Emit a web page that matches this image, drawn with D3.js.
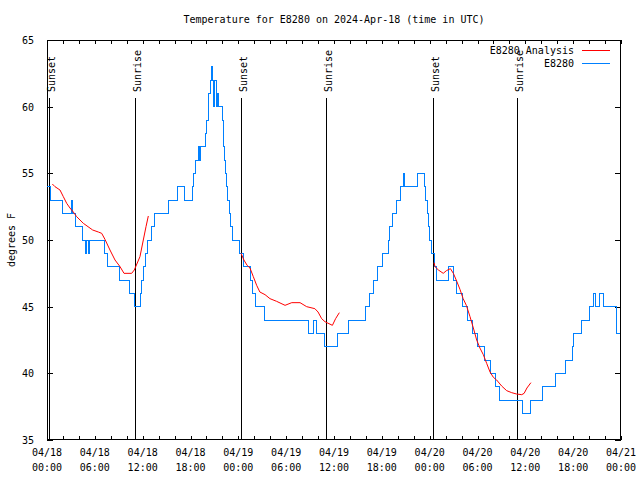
<!DOCTYPE html>
<html><head><meta charset="utf-8">
<script src="https://cdn.jsdelivr.net/npm/d3@7"></script>
<style>
body{margin:0;background:#fff}
text{font-family:"DejaVu Sans Mono",monospace;font-size:10px;fill:#000}
</style>
</head><body><svg id="c" width="640" height="480"></svg>
<script>
const chartTitle = "Temperature for E8280 on 2024-Apr-18 (time in UTC)";
const yLabel = "degrees F";
const seriesNames = ["E8280 Analysis", "E8280"];
const seriesColors = ["#ff0000", "#0080ff"];
const yTickValues = [35, 40, 45, 50, 55, 60, 65];
const startDate = Date.UTC(2024, 3, 18);
const hoursSpan = 72;
// sunrise / sunset markers (hours after 04/18 00:00 UTC)
const sunEvents = [["Sunset", 0.3], ["Sunrise", 11.02], ["Sunset", 24.37], ["Sunrise", 35.0], ["Sunset", 48.45], ["Sunrise", 58.98]];
// observed temperature (hour, degF), value holds until the next entry
const e8280 = [
[0.0,54],[0.5,53],[2.0,52],[3.05,53],[3.25,52],[3.6,51],[4.5,50],[4.8,49],[5.0,50],[5.15,49],[5.35,50],
[7.2,49],[7.6,48],[9.1,47],[10.3,46],[11.0,45],[11.75,46],[11.9,47],[12.1,48],[12.35,49],[12.6,50],
[13.05,51],[13.5,52],[15.3,53],[16.4,54],[17.3,53],[18.3,54],[18.4,55],[18.6,56],[18.95,57],[19.1,56],
[19.3,57],[19.9,58],[20.05,59],[20.2,60],[20.3,61],[20.45,62],[20.6,63],[20.75,62],[20.9,60],[21.05,62],
[21.25,60],[21.4,61],[21.55,60],[22.0,59],[22.1,58],[22.2,57],[22.3,56],[22.4,55],[22.55,54],[22.7,53],
[22.85,52],[23.05,51],[23.3,50],[24.1,49],[24.6,48],[25.5,47],[25.8,46],[26.1,45],[27.25,44],[32.8,43],
[33.4,44],[33.85,43],[34.85,42],[36.5,43],[37.8,44],[40.0,45],[40.4,46],[40.9,47],[41.5,48],[42.1,49],
[42.8,50],[43.0,51],[43.4,52],[43.85,53],[44.3,54],[44.7,55],[44.9,54],[46.5,55],[47.3,54],[47.5,53],
[47.7,52],[47.9,51],[48.0,50],[48.2,49],[48.6,48],[48.8,47],[50.3,48],[51.0,47],[51.4,46],[52.1,45],
[52.75,44],[53.4,43],[53.95,42],[54.85,41],[55.6,40],[56.3,39],[56.7,38],[59.6,37],[60.6,38],[62.1,39],
[63.8,40],[65.1,41],[65.9,42],[66.1,43],[67.0,44],[68.0,45],[68.55,46],[68.8,45],[69.3,46],[69.85,45],
[71.4,43],[71.9,43]
];
// analysis (hour, degF), three night segments
const analysisNight1 = [[0.67,54.2],[1.0,54.0],[1.63,53.75],[2.05,53.25],[2.47,52.75],[2.88,52.4],[3.3,52.1],[3.72,51.75],[4.56,51.25],[5.73,50.75],[6.44,50.6],[6.86,50.5],[7.27,50.05],[7.9,49.25],[8.53,48.5],[9.16,48.0],[9.66,47.5],[10.62,47.5],[10.95,47.75],[11.66,48.75],[12.08,50],[12.42,51],[12.71,51.8]];
const analysisNight2 = [[24.34,49.0],[24.7,48.5],[25.1,48.1],[25.46,47.9],[25.88,47.25],[26.3,46.6],[26.7,46.1],[27.35,45.9],[27.97,45.6],[28.8,45.4],[29.86,45.1],[30.7,45.3],[31.74,45.3],[32.57,45.0],[33.6,44.85],[34.0,44.6],[34.45,44.1],[34.87,43.87],[35.8,43.6],[36.2,44.1],[36.67,44.55]];
const analysisNight3 = [[48.55,48.3],[48.67,48.0],[49.1,47.75],[49.7,47.5],[50.1,47.7],[50.6,47.85],[50.97,47.5],[51.4,46.9],[51.8,46.3],[52.2,45.6],[52.6,45.1],[53.06,44.25],[53.48,43.4],[53.9,42.5],[54.3,41.9],[54.73,41.4],[55.15,40.75],[55.57,40.1],[55.99,39.7],[56.4,39.5],[57.03,39.05],[57.66,38.7],[58.29,38.55],[58.9,38.45],[59.55,38.4],[59.85,38.5],[60.2,38.9],[60.7,39.3]];

const L = 47, R = 621, T = 40, B = 440;
const svg = d3.select("#c");
const toDate = h => new Date(startDate + h * 3600e3);
const x = d3.scaleUtc().domain([toDate(0), toDate(hoursSpan)]).range([L, R]);
const y = d3.scaleLinear().domain([35, 65]).range([B, T]);

// title
svg.append("text").attr("x", (L + R) / 2).attr("y", 23).attr("text-anchor", "middle").text(chartTitle);
// y label
svg.append("text").attr("transform", "translate(15,240) rotate(-90)").attr("text-anchor", "middle").text(yLabel);

const majors = d3.utcHour.every(6).range(toDate(0), toDate(hoursSpan + 0.01));
const minors = d3.utcHour.every(2).range(toDate(0), toDate(hoursSpan + 0.01));

// bottom and top ticks (inward)
const gb = svg.append("g").attr("transform", `translate(0,${B})`)
  .call(d3.axisBottom(x).tickValues(minors).tickSizeInner(-4).tickSizeOuter(0).tickFormat(""));
const gt = svg.append("g").attr("transform", `translate(0,${T})`)
  .call(d3.axisTop(x).tickValues(minors).tickSizeInner(-4).tickSizeOuter(0).tickFormat(""));
// y ticks left/right
const gl = svg.append("g").attr("transform", `translate(${L},0)`)
  .call(d3.axisLeft(y).tickValues(yTickValues).tickSizeInner(-6).tickSizeOuter(0).tickPadding(13));
const gr = svg.append("g").attr("transform", `translate(${R},0)`)
  .call(d3.axisRight(y).tickValues(yTickValues).tickSizeInner(-6).tickSizeOuter(0).tickFormat(""));
[gb, gt, gl, gr].forEach(g => {
  g.select(".domain").remove();
  g.selectAll("line").attr("stroke", "#000").attr("shape-rendering", "crispEdges");
  g.selectAll("text").attr("font-family", null).attr("font-size", null).attr("fill", "#000");
});
gl.selectAll("text").attr("dy", "0.35em");

// x labels (two lines)
const fmtD = d3.utcFormat("%m/%d"), fmtT = d3.utcFormat("%H:%M");
const xl = svg.append("g");
majors.forEach(d => {
  const t = xl.append("text").attr("text-anchor", "middle");
  t.append("tspan").attr("x", x(d)).attr("y", 456).text(fmtD(d));
  t.append("tspan").attr("x", x(d)).attr("y", 471).text(fmtT(d));
});

// border
svg.append("rect").attr("x", L + 0.5).attr("y", T + 0.5).attr("width", R - L - 1).attr("height", B - T - 1)
  .attr("fill", "none").attr("stroke", "#000").attr("shape-rendering", "crispEdges");

// sun events
sunEvents.forEach(([name, h]) => {
  const px = Math.round(x(toDate(h))) + 0.5;
  svg.append("line").attr("x1", px).attr("x2", px).attr("y1", 98).attr("y2", B)
    .attr("stroke", "#000").attr("shape-rendering", "crispEdges");
  svg.append("text").attr("transform", `translate(${px + 5},92) rotate(-90)`).text(name);
});

// series
const stepLine = d3.line().x(d => x(toDate(d[0]))).y(d => y(d[1])).curve(d3.curveStepAfter);
svg.append("path").datum(e8280).attr("d", stepLine).attr("fill", "none")
  .attr("stroke", seriesColors[1]).attr("stroke-width", 1).attr("shape-rendering", "crispEdges");
const lin = d3.line().x(d => x(toDate(d[0]))).y(d => y(d[1]));
[analysisNight1, analysisNight2, analysisNight3].forEach(seg => {
  svg.append("path").datum(seg).attr("d", lin).attr("fill", "none")
    .attr("stroke", seriesColors[0]).attr("stroke-width", 1);
});

// legend
seriesNames.forEach((n, i) => {
  const yy = 50 + i * 13;
  svg.append("text").attr("x", 574).attr("y", yy + 3.5).attr("text-anchor", "end").text(n);
  svg.append("line").attr("x1", 582).attr("x2", 610).attr("y1", yy + 0.5).attr("y2", yy + 0.5)
    .attr("stroke", seriesColors[i]).attr("stroke-width", 1).attr("shape-rendering", "crispEdges");
});
</script>
</body></html>
